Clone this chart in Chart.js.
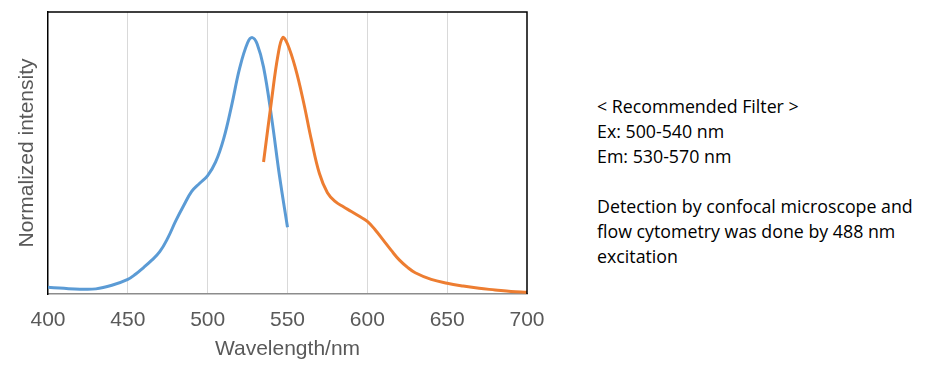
<!DOCTYPE html>
<html>
<head>
<meta charset="utf-8">
<script src="https://cdn.jsdelivr.net/npm/chart.js@4"></script>
<style>
  html, body { margin: 0; padding: 0; background: #fff; }
  #wrap { position: relative; width: 934px; height: 384px; }
  #chartBox { position: absolute; left: 0; top: 0; width: 560px; height: 384px; }
  #note {
    position: absolute; left: 597px; top: 94px;
    font-family: "Open Sans", "Noto Sans", sans-serif;
    font-size: 17.8px; line-height: 25px; color: #000;
    white-space: nowrap;
  }
</style>
</head>
<body>
<div id="wrap">
  <div id="chartBox"><canvas id="spectrum" width="560" height="384"></canvas></div>
  <div id="note">
    &lt; Recommended Filter &gt;<br>
    Ex: 500-540 nm<br>
    Em: 530-570 nm<br>
    <br>
    Detection by confocal microscope and<br>
    flow cytometry was done by 488 nm<br>
    excitation
  </div>
</div>
<script>
// --- dữ liệu ---
const exWavelengths = [400, 410, 420, 430, 440, 450, 455, 460, 465, 470, 475, 480, 485, 490, 495, 500, 505, 510, 515, 520, 525, 528, 531, 535, 540, 545, 550];
const exValues = [0.026, 0.022, 0.019, 0.02, 0.034, 0.057, 0.078, 0.104, 0.132, 0.165, 0.218, 0.285, 0.345, 0.4, 0.432, 0.462, 0.515, 0.605, 0.735, 0.88, 0.98, 1.0, 0.975, 0.885, 0.69, 0.46, 0.26];

const emWavelengths = [535, 540, 544, 547, 550, 555, 560, 565, 570, 575, 580, 585, 590, 595, 600, 605, 610, 615, 620, 625, 630, 640, 650, 660, 670, 680, 690, 700];
const emValues = [0.515, 0.755, 0.93, 1.0, 0.975, 0.88, 0.75, 0.6, 0.47, 0.395, 0.36, 0.34, 0.322, 0.303, 0.283, 0.25, 0.21, 0.17, 0.133, 0.105, 0.083, 0.057, 0.042, 0.031, 0.022, 0.016, 0.01, 0.007];

const xTicks = [400, 450, 500, 550, 600, 650, 700];

const toPoints = (xs, ys) => xs.map((x, i) => ({ x: x, y: ys[i] }));

// viền đen phía trên và bên phải vùng vẽ
const frameBorder = {
  id: "frameBorder",
  afterDraw(chart) {
    const { ctx, chartArea: a } = chart;
    ctx.save();
    ctx.strokeStyle = "#000";
    ctx.lineWidth = 1.5;
    ctx.beginPath();
    ctx.moveTo(a.left, a.top);
    ctx.lineTo(a.right, a.top);
    ctx.lineTo(a.right, a.bottom);
    ctx.stroke();
    ctx.restore();
  },
};

const axisFont = { family: "'Liberation Sans', Arial, sans-serif", size: 21 };

new Chart(document.getElementById("spectrum"), {
  type: "line",
  data: {
    datasets: [
      {
        label: "Emission",
        data: toPoints(emWavelengths, emValues),
        borderColor: "#ED7D31",
        borderWidth: 3,
        pointRadius: 0,
        tension: 0.4,
        fill: false,
      },
      {
        label: "Excitation",
        data: toPoints(exWavelengths, exValues),
        borderColor: "#5B9BD5",
        borderWidth: 3,
        pointRadius: 0,
        tension: 0.4,
        fill: false,
      },
    ],
  },
  options: {
    responsive: false,
    animation: false,
    layout: { padding: { top: 12, right: 33, left: 0, bottom: 0 } },
    plugins: { legend: { display: false }, tooltip: { enabled: false } },
    scales: {
      x: {
        type: "linear",
        min: 400,
        max: 700,
        afterBuildTicks: (s) => { s.ticks = xTicks.map((v) => ({ value: v })); },
        afterFit: (s) => { s.height = 90; },
        ticks: { color: "#595959", font: axisFont, padding: 14, maxRotation: 0 },
        grid: {
          drawTicks: false,
          color: (c) => (c.tick && (c.tick.value === 400 || c.tick.value === 700) ? "rgba(0,0,0,0)" : "#d9d9d9"),
          lineWidth: 1,
        },
        border: { color: "#8c8c8c", width: 1.5 },
        title: { display: true, text: "Wavelength/nm", color: "#595959", font: axisFont, padding: { top: 0, bottom: 22 } },
      },
      y: {
        min: 0,
        max: 1.1,
        afterFit: (s) => { s.width = 48; },
        ticks: { display: false },
        grid: { display: false, drawTicks: false },
        border: { color: "#000", width: 1.5 },
        title: { display: true, text: "Normalized intensity", color: "#595959", font: axisFont, padding: { top: 15, bottom: 0 } },
      },
    },
  },
  plugins: [frameBorder],
});
</script>
</body>
</html>
